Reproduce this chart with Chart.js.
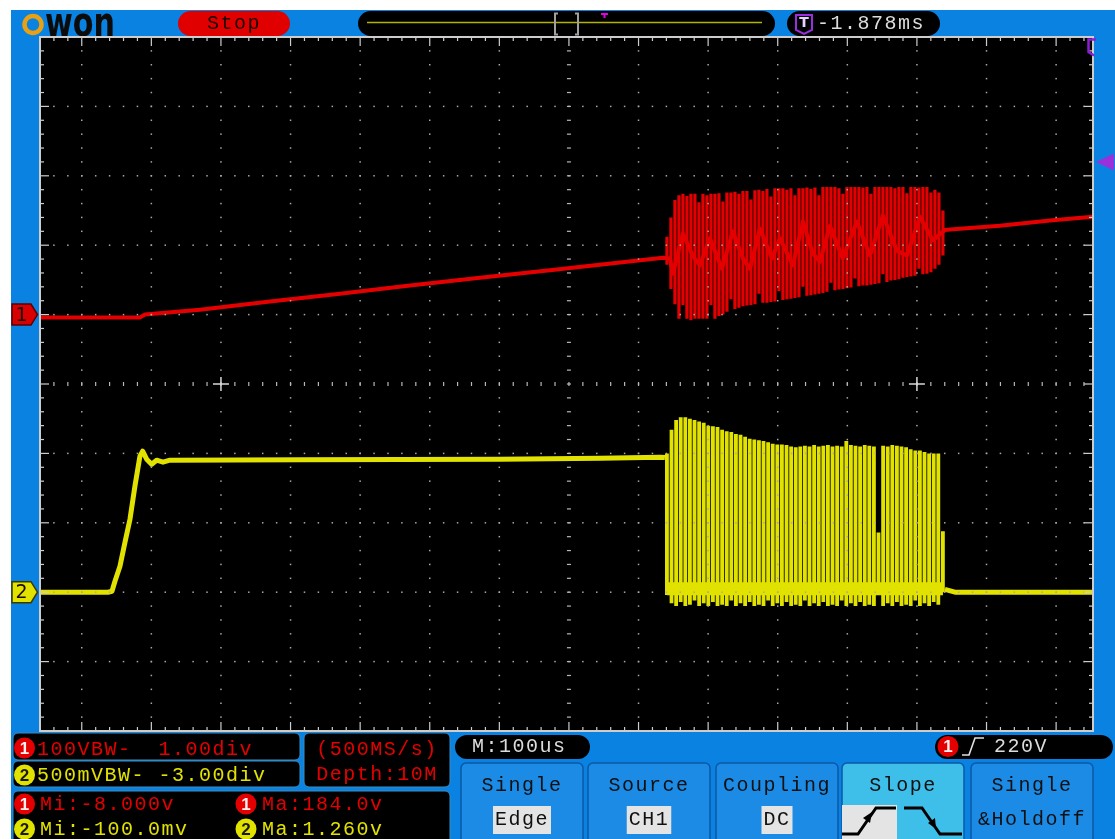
<!DOCTYPE html>
<html>
<head>
<meta charset="utf-8">
<script src="https://cdn.jsdelivr.net/npm/chart.js@4.4.1/dist/chart.umd.min.js"></script>
<style>
  html, body { margin: 0; padding: 0; background: #fff; }
  #wrap { width: 1115px; height: 839px; }
</style>
</head>
<body>
<div id="wrap"><canvas id="scope" width="1115" height="839"></canvas></div>
<script>
// ---- Acquisition settings ----------------------------------------------
// Time axis in microseconds relative to screen centre (M: 100us/div)
const timeWindowUs = [-760, 753];
const usPerDiv = 100;
// CH1: 100 V/div, ground +1 div  ->  screen spans -600 V .. 400 V
const ch1RangeV = [-600, 400];
const ch1VoltsPerDiv = 100;
// CH2: 500 mV/div, ground -3 div ->  screen spans -1.0 V .. 4.0 V
const ch2RangeV = [-1.0, 4.0];
// Trigger: CH1 rising edge
const triggerLevelV = 220;
const cursorMarksUs = [-500, 500];

// ---- CH1 (red) continuous trace: ramp, burst midline, tail ---------------
const ch1TraceT = [-760, -616.4, -609.2, -530.2, -429.6, -329, -228.4, -127.9, -27.3, 73.3, 135.1,
  145.1, 149.4, 163.8, 178.2, 188.2, 202.6, 219.8, 235.6, 250, 260.1, 274.4, 291.7, 303.2, 321.8,
  336.2, 350.6, 360.6, 375, 393.7, 413.8, 432.5, 451.1, 471.3, 485.6, 504.3, 523, 540.2,
  547.4, 619.3, 691.1, 753];
const ch1TraceV = [-4, -4, 0, 7, 19, 30, 42, 53, 64, 75, 82,
  81, 59, 117, 84, 71, 110, 66, 120, 81, 66, 124, 81, 110, 71,
  134, 88, 76, 128, 81, 134, 85, 143, 92, 85, 141, 107, 122,
  122.5, 128, 135.5, 141];

// ---- CH1 burst: per-column peak-detect min/max (V) -----------------------
const ch1BurstStartUs = 140.8;
const ch1BurstStepUs = 5.747;
const ch1BurstHigh = [112, 140, 165, 172, 174, 171, 174, 174, 162, 174,
  172, 174, 174, 175, 163, 176, 176, 177, 174, 178,
  178, 166, 179, 180, 178, 181, 170, 182, 182, 182,
  180, 182, 172, 182, 182, 183, 181, 183, 172, 184,
  184, 184, 184, 182, 174, 184, 184, 184, 184, 183,
  184, 174, 184, 184, 184, 184, 184, 182, 184, 184,
  175, 184, 184, 183, 184, 184, 176, 180, 176, 150];
const ch1BurstLow = [72, 37, 15, -6, 14, -6, -8, -6, -6, -6,
  -6, 14, -6, -2, 0, 4, 22, 8, 10, 12,
  13, 14, 15, 30, 17, 17, 18, 19, 34, 21,
  22, 23, 24, 25, 40, 27, 28, 29, 30, 31,
  33, 46, 35, 36, 37, 38, 39, 52, 41, 42,
  42, 43, 44, 45, 58, 47, 49, 50, 51, 53,
  54, 55, 56, 66, 58, 59, 61, 66, 72, 85];

// ---- CH2 (yellow) continuous trace -----------------------------------------
const ch2LeadT = [-760, -662.4, -656.6, -652.3, -645.1, -637.9, -630.7, -623.6, -616.4, -612.5,
  -606.8, -599.6, -592.4, -583.3, -573.3, -386.5, -99.1, 44.5, 130.7, 137.9];
const ch2LeadV = [0, 0, 0.007, 0.079, 0.187, 0.36, 0.526, 0.764, 0.98, 1.016,
  0.958, 0.922, 0.951, 0.937, 0.951, 0.955, 0.958, 0.965, 0.973, 0.97];
const ch2TailT = [540.2, 554.6, 753];
const ch2TailV = [0.02, 0, 0];
// low level held between pulses during the burst
const ch2FloorT = [140.8, 537.4];
const ch2FloorV = [0.025, 0.025];

// ---- CH2 burst: per-column peak-detect min/max (V) -----------------------
const ch2BurstStartUs = 140.8;
const ch2BurstStepUs = 6.609;
const ch2BurstHigh = [1.00, 1.17, 1.24, 1.26, 1.26, 1.25, 1.24, 1.23, 1.22, 1.20,
  1.195, 1.19, 1.17, 1.16, 1.155, 1.14, 1.135, 1.12, 1.105, 1.10,
  1.095, 1.09, 1.08, 1.07, 1.065, 1.065, 1.06, 1.05, 1.045, 1.05,
  1.055, 1.05, 1.06, 1.05, 1.055, 1.06, 1.05, 1.055, 1.05, 1.09,
  1.06, 1.055, 1.05, 1.06, 1.055, 1.05, 0.43, 1.055, 1.05, 1.06,
  1.055, 1.05, 1.045, 1.03, 1.02, 1.02, 1.01, 1.00, 1.00, 1.00, 0.44];
const ch2BurstLow = [-0.02, -0.08, -0.1, -0.07, -0.1, -0.09, -0.06, -0.1, -0.08, -0.1,
  -0.07, -0.1, -0.09, -0.1, -0.06, -0.1, -0.08, -0.1, -0.07, -0.1,
  -0.09, -0.1, -0.06, -0.1, -0.08, -0.1, -0.07, -0.1, -0.09, -0.1,
  -0.06, -0.1, -0.08, -0.1, -0.07, -0.1, -0.09, -0.1, -0.06, -0.1,
  -0.08, -0.1, -0.07, -0.1, -0.09, -0.1, 0.0, -0.1, -0.08, -0.1,
  -0.07, -0.1, -0.09, -0.1, -0.06, -0.1, -0.08, -0.1, -0.07, -0.09, 0.0];

// ---- Colours ----------------------------------------------------------------
const RED = '#e40000';
const YEL = '#e2e200';
const BLUE = '#0a82e2';
const MONO = '"Liberation Mono", "DejaVu Sans Mono", monospace';

// ---- Build datasets -----------------------------------------------------------
const pts = (ts, vs) => ts.map((t, i) => ({ x: t, y: vs[i] }));
// each burst column is a vertical min..max stroke, broken from the next by a gap
const columns = (start, step, lo, hi) => hi.flatMap((h, i) => {
  const t = start + i * step;
  return [{ x: t, y: lo[i] }, { x: t, y: h }, { x: t, y: null }];
});

const ch1All = ch1TraceV.concat(ch1BurstHigh, ch1BurstLow);
const ch2All = ch2LeadV.concat(ch2TailV, ch2BurstHigh, ch2BurstLow);
const ch1Min = Math.min(...ch1All), ch1Max = Math.max(...ch1All);
const ch2Min = Math.min(...ch2All), ch2Max = Math.max(...ch2All);

const lineStyle = (color, w, cap) => ({
  type: 'line', borderColor: color, borderWidth: w, pointRadius: 0, spanGaps: false,
  tension: 0, borderJoinStyle: cap ? 'miter' : 'round', borderCapStyle: cap || 'butt', fill: false
});

const datasets = [
  Object.assign({ label: 'CH1', data: pts(ch1TraceT, ch1TraceV), xAxisID: 'x', yAxisID: 'y1' }, lineStyle(RED, 4)),
  Object.assign({ label: 'CH1 burst', data: columns(ch1BurstStartUs, ch1BurstStepUs, ch1BurstLow, ch1BurstHigh),
    xAxisID: 'x', yAxisID: 'y1' }, lineStyle(RED, 3.2, 'butt')),
  Object.assign({ label: 'CH2', data: pts(ch2LeadT, ch2LeadV), xAxisID: 'x', yAxisID: 'y2' }, lineStyle(YEL, 5)),
  Object.assign({ label: 'CH2 tail', data: pts(ch2TailT, ch2TailV), xAxisID: 'x', yAxisID: 'y2' }, lineStyle(YEL, 5)),
  Object.assign({ label: 'CH2 floor', data: pts(ch2FloorT, ch2FloorV), xAxisID: 'x', yAxisID: 'y2' }, lineStyle(YEL, 13)),
  Object.assign({ label: 'CH2 burst', data: columns(ch2BurstStartUs, ch2BurstStepUs, ch2BurstLow, ch2BurstHigh),
    xAxisID: 'x', yAxisID: 'y2' }, lineStyle(YEL, 3.8, 'butt'))
];

// ---- Drawing helpers --------------------------------------------------------------
function rr(ctx, x, y, w, h, r) { ctx.beginPath(); ctx.roundRect(x, y, w, h, r); }
function txt(ctx, s, x, y, color, align, size, spacing) {
  ctx.font = (size || 20) + 'px ' + MONO;
  ctx.letterSpacing = (spacing === undefined ? 1.5 : spacing) + 'px';
  ctx.fillStyle = color;
  ctx.textAlign = align || 'left';
  ctx.textBaseline = 'middle';
  ctx.fillText(s, x, y);
  ctx.letterSpacing = '0px';
}
function badge(ctx, x, y, fill, digitColor, d) {
  ctx.beginPath(); ctx.arc(x, y, 10.5, 0, Math.PI * 2); ctx.fillStyle = fill; ctx.fill();
  ctx.font = 'bold 17px "Liberation Sans", sans-serif';
  ctx.fillStyle = digitColor; ctx.textAlign = 'center'; ctx.textBaseline = 'middle';
  ctx.fillText(d, x, y + 1);
}

function drawHeader(ctx) {
  // brand
  ctx.strokeStyle = '#e9a012'; ctx.lineWidth = 4.5;
  ctx.beginPath(); ctx.arc(33, 24.5, 8.5, 0, Math.PI * 2); ctx.stroke();
  ctx.save(); ctx.translate(45, 35.5); ctx.scale(1.04, 1.38);
  ctx.font = 'bold 29px "DejaVu Sans", sans-serif'; ctx.fillStyle = '#0b0b0b';
  ctx.textAlign = 'left'; ctx.textBaseline = 'alphabetic'; ctx.fillText('won', 0, 0);
  ctx.restore();
  // run state
  ctx.fillStyle = '#e00000'; rr(ctx, 178, 11, 112, 25, 12.5); ctx.fill();
  txt(ctx, 'Stop', 234, 24, '#1a0000', 'center');
  // memory / window bar
  ctx.fillStyle = '#000'; rr(ctx, 358, 11, 417, 25, 12.5); ctx.fill();
  ctx.strokeStyle = '#b4b400'; ctx.lineWidth = 1.5;
  ctx.beginPath(); ctx.moveTo(367, 22.5); ctx.lineTo(762, 22.5); ctx.stroke();
  ctx.strokeStyle = '#a0a0a0'; ctx.lineWidth = 2;
  ctx.beginPath();
  ctx.moveTo(558, 13.5); ctx.lineTo(555, 13.5); ctx.lineTo(555, 34.5); ctx.lineTo(558, 34.5);
  ctx.moveTo(575, 13.5); ctx.lineTo(578, 13.5); ctx.lineTo(578, 34.5); ctx.lineTo(575, 34.5);
  ctx.stroke();
  ctx.fillStyle = '#e000e0';
  ctx.fillRect(601, 13, 7, 2); ctx.fillRect(603.5, 13, 2, 5);
  // trigger position
  ctx.fillStyle = '#000'; rr(ctx, 787, 11, 153, 25, 12.5); ctx.fill();
  ctx.strokeStyle = '#9a2ee0'; ctx.lineWidth = 2;
  ctx.beginPath(); ctx.moveTo(796, 15); ctx.lineTo(812, 15); ctx.lineTo(812, 30); ctx.lineTo(804, 34); ctx.lineTo(796, 30); ctx.closePath(); ctx.stroke();
  ctx.font = 'bold 14px "DejaVu Sans", sans-serif'; ctx.fillStyle = '#e8d0ff';
  ctx.textAlign = 'center'; ctx.textBaseline = 'middle'; ctx.fillText('T', 804, 23.5);
  txt(ctx, '-1.878ms', 817, 24, '#dcdcdc', 'left');
}

function drawFooter(ctx) {
  ctx.strokeStyle = '#3a8cc0'; ctx.lineWidth = 1;
  // channel settings
  ctx.fillStyle = '#000';
  rr(ctx, 13, 733, 287, 27, 5); ctx.fill(); ctx.stroke();
  rr(ctx, 13, 761, 287, 26, 5); ctx.fill(); ctx.stroke();
  rr(ctx, 304, 733, 146, 54, 5); ctx.fill(); ctx.stroke();
  rr(ctx, 13, 791, 437, 60, 5); ctx.fill(); ctx.stroke();
  badge(ctx, 24.5, 748, RED, '#fff0f0', '1');
  txt(ctx, '100VBW-  1.00div', 37, 750, RED);
  badge(ctx, 24.5, 775, YEL, '#1a1a00', '2');
  txt(ctx, '500mVBW- -3.00div', 37, 775.5, YEL);
  txt(ctx, '(500MS/s)', 377, 750, RED, 'center');
  txt(ctx, 'Depth:10M', 377, 775, RED, 'center');
  // measurements from the record
  badge(ctx, 24.5, 804, RED, '#fff0f0', '1');
  txt(ctx, 'Mi:' + ch1Min.toFixed(3) + 'v', 40, 805, RED);
  badge(ctx, 246, 804, RED, '#fff0f0', '1');
  txt(ctx, 'Ma:' + ch1Max.toFixed(1) + 'v', 262, 805, RED);
  badge(ctx, 24.5, 829, YEL, '#1a1a00', '2');
  txt(ctx, 'Mi:' + (ch2Min * 1000).toFixed(1) + 'mv', 40, 830, YEL);
  badge(ctx, 246, 829, YEL, '#1a1a00', '2');
  txt(ctx, 'Ma:' + ch2Max.toFixed(3) + 'v', 262, 830, YEL);

  // time base
  ctx.fillStyle = '#000'; rr(ctx, 455, 735, 135, 24, 12); ctx.fill();
  txt(ctx, 'M:' + usPerDiv + 'us', 472, 747, '#dcdcdc');
  // trigger summary
  ctx.fillStyle = '#000'; rr(ctx, 935, 735, 178, 24, 12); ctx.fill();
  badge(ctx, 948, 746.5, RED, '#fff0f0', '1');
  ctx.strokeStyle = '#e0e0e0'; ctx.lineWidth = 1.6;
  ctx.beginPath(); ctx.moveTo(962, 755); ctx.lineTo(969, 755); ctx.lineTo(975, 738); ctx.lineTo(984, 738); ctx.stroke();
  txt(ctx, triggerLevelV + 'V', 994, 747, '#dcdcdc');

  // soft keys
  const keys = [
    { x: 461, top: 'Single', sub: 'Edge', boxed: true },
    { x: 588, top: 'Source', sub: 'CH1', boxed: true },
    { x: 716, top: 'Coupling', sub: 'DC', boxed: true },
    { x: 842, top: 'Slope', sub: null, active: true },
    { x: 971, top: 'Single', sub: '&Holdoff', boxed: false }
  ];
  keys.forEach(k => {
    ctx.fillStyle = k.active ? '#3dbfe9' : '#1c8be6';
    ctx.strokeStyle = '#0b58a6'; ctx.lineWidth = 1.5;
    rr(ctx, k.x, 763, 122, 90, 5); ctx.fill(); ctx.stroke();
    const cx = k.x + 61;
    txt(ctx, k.top, cx, 786, '#101010', 'center');
    if (k.sub) {
      if (k.boxed) {
        ctx.font = '20px ' + MONO; ctx.letterSpacing = '1.5px';
        const w = ctx.measureText(k.sub).width + 4;
        ctx.letterSpacing = '0px';
        ctx.fillStyle = '#e4e4e4'; ctx.fillRect(cx - w / 2, 806, w, 28);
      }
      txt(ctx, k.sub, cx, 820, '#101010', 'center');
    }
  });
  // slope glyphs
  ctx.fillStyle = '#e4e4e4'; ctx.fillRect(842, 805, 55, 34);
  ctx.strokeStyle = '#000'; ctx.lineWidth = 3;
  ctx.beginPath(); ctx.moveTo(842, 834); ctx.lineTo(858, 834); ctx.lineTo(876, 808); ctx.lineTo(896, 808); ctx.stroke();
  ctx.beginPath(); ctx.moveTo(904, 808); ctx.lineTo(922, 808); ctx.lineTo(940, 834); ctx.lineTo(962, 834); ctx.stroke();
  ctx.fillStyle = '#000';
  ctx.beginPath(); ctx.moveTo(872, 812); ctx.lineTo(863, 818); ctx.lineTo(870, 823); ctx.closePath(); ctx.fill();
  ctx.beginPath(); ctx.moveTo(936, 829); ctx.lineTo(928, 823); ctx.lineTo(935, 818); ctx.closePath(); ctx.fill();
}

function drawGraticule(chart) {
  const { ctx, chartArea: ca } = chart;
  const xs = chart.scales.x, ys = chart.scales.y1;
  const minorUs = usPerDiv / 5, minorV = ch1VoltsPerDiv / 5;
  const centreV = (ch1RangeV[0] + ch1RangeV[1]) / 2;
  const tStart = Math.ceil(timeWindowUs[0] / minorUs) * minorUs;
  ctx.save();
  // dotted major divisions
  ctx.fillStyle = '#a8a8a8';
  for (let t = -7 * usPerDiv; t <= 7 * usPerDiv; t += usPerDiv) {
    if (t === 0) continue;
    const X = xs.getPixelForValue(t);
    for (let v = ch1RangeV[0] + minorV; v < ch1RangeV[1]; v += minorV) {
      const Y = ys.getPixelForValue(v);
      ctx.fillRect(X - 0.75, Y - 0.75, 1.5, 1.5);
    }
  }
  for (let v = ch1RangeV[0] + ch1VoltsPerDiv; v < ch1RangeV[1]; v += ch1VoltsPerDiv) {
    if (v === centreV) continue;
    const Y = ys.getPixelForValue(v);
    for (let t = tStart; t < timeWindowUs[1]; t += minorUs) {
      const X = xs.getPixelForValue(t);
      if (X < ca.left + 3 || X > ca.right - 3) continue;
      ctx.fillRect(X - 0.75, Y - 0.75, 1.5, 1.5);
    }
  }
  // centre axes with minor ticks
  ctx.fillStyle = '#b8b8b8';
  const Yc = ys.getPixelForValue(centreV), Xc = xs.getPixelForValue(0);
  for (let t = tStart; t < timeWindowUs[1]; t += minorUs) {
    const X = xs.getPixelForValue(t);
    if (X < ca.left + 3 || X > ca.right - 3) continue;
    ctx.fillRect(X - 0.6, Yc - 2, 1.2, 4);
  }
  for (let v = ch1RangeV[0] + minorV; v < ch1RangeV[1]; v += minorV) {
    const Y = ys.getPixelForValue(v);
    ctx.fillRect(Xc - 2, Y - 0.6, 4, 1.2);
  }
  // cursor crosses
  ctx.strokeStyle = '#d8d8d8'; ctx.lineWidth = 1.5;
  cursorMarksUs.forEach(t => {
    const X = xs.getPixelForValue(t);
    ctx.beginPath(); ctx.moveTo(X - 8, Yc); ctx.lineTo(X + 8, Yc); ctx.moveTo(X, Yc - 7); ctx.lineTo(X, Yc + 7); ctx.stroke();
  });
  // frame with rulers
  ctx.strokeStyle = '#cdcdcd'; ctx.lineWidth = 2;
  ctx.strokeRect(ca.left, ca.top, ca.right - ca.left, ca.bottom - ca.top);
  ctx.fillStyle = '#cdcdcd';
  for (let t = tStart; t < timeWindowUs[1]; t += minorUs) {
    const X = xs.getPixelForValue(t);
    if (X < ca.left + 2 || X > ca.right - 2) continue;
    const len = (Math.round(t) % usPerDiv === 0) ? 9 : 4;
    ctx.fillRect(X - 0.6, ca.top, 1.2, len);
    ctx.fillRect(X - 0.6, ca.bottom - len, 1.2, len);
  }
  for (let v = ch1RangeV[0] + minorV; v < ch1RangeV[1]; v += minorV) {
    const Y = ys.getPixelForValue(v);
    const len = (Math.round(v) % ch1VoltsPerDiv === 0) ? 9 : 4;
    ctx.fillRect(ca.left, Y - 0.6, len, 1.2);
    ctx.fillRect(ca.right - len, Y - 0.6, len, 1.2);
  }
  ctx.restore();
}

function drawMarkers(chart) {
  const { ctx, chartArea: ca } = chart;
  const y1 = chart.scales.y1.getPixelForValue(0);
  const y2 = chart.scales.y2.getPixelForValue(0);
  const tag = (y, fill, edge, d) => {
    ctx.beginPath();
    ctx.moveTo(12, y - 10.5); ctx.lineTo(31, y - 10.5); ctx.lineTo(37.5, y); ctx.lineTo(31, y + 10.5); ctx.lineTo(12, y + 10.5); ctx.closePath();
    ctx.fillStyle = fill; ctx.fill(); ctx.strokeStyle = edge; ctx.lineWidth = 1.5; ctx.stroke();
    ctx.font = '19px "DejaVu Sans", sans-serif'; ctx.fillStyle = '#1a0a00';
    ctx.textAlign = 'center'; ctx.textBaseline = 'middle'; ctx.fillText(d, 21.5, y + 1);
  };
  tag(y1, '#d80000', '#5a0000', '1');
  tag(y2, '#e2e200', '#3a3a00', '2');
  // trigger level
  const yt = chart.scales.y1.getPixelForValue(triggerLevelV);
  ctx.fillStyle = '#9a30dc';
  ctx.beginPath(); ctx.moveTo(ca.right + 3, yt); ctx.lineTo(1114, yt - 8.5); ctx.lineTo(1114, yt + 8.5); ctx.closePath(); ctx.fill();
  // trigger point beyond right edge
  ctx.strokeStyle = '#8a1ed0'; ctx.lineWidth = 2.5;
  ctx.beginPath(); ctx.moveTo(1096, 39.5); ctx.lineTo(1088.5, 39.5); ctx.lineTo(1088.5, 52); ctx.lineTo(1094, 55.5); ctx.stroke();
}

const scopeChrome = {
  id: 'scopeChrome',
  beforeDraw(chart) {
    const { ctx, width, height, chartArea: ca } = chart;
    ctx.save();
    ctx.fillStyle = '#fff'; ctx.fillRect(0, 0, width, height);
    ctx.fillStyle = BLUE; ctx.fillRect(11, 10, width - 11, height - 10);
    ctx.fillStyle = '#000'; ctx.fillRect(ca.left, ca.top, ca.right - ca.left, ca.bottom - ca.top);
    drawHeader(ctx);
    drawFooter(ctx);
    ctx.restore();
  },
  afterDatasetsDraw(chart) {
    drawGraticule(chart);
    chart.ctx.save();
    drawMarkers(chart);
    chart.ctx.restore();
  }
};

new Chart(document.getElementById('scope'), {
  type: 'line',
  data: { datasets },
  options: {
    responsive: false,
    animation: false,
    devicePixelRatio: 1,
    events: [],
    layout: { padding: { left: 40, top: 37, right: 22, bottom: 108 } },
    plugins: { legend: { display: false }, tooltip: { enabled: false } },
    scales: {
      x: { type: 'linear', min: timeWindowUs[0], max: timeWindowUs[1], offset: false, display: false },
      y1: { type: 'linear', min: ch1RangeV[0], max: ch1RangeV[1], display: false },
      y2: { type: 'linear', min: ch2RangeV[0], max: ch2RangeV[1], display: false }
    }
  },
  plugins: [scopeChrome]
});
</script>
</body>
</html>
